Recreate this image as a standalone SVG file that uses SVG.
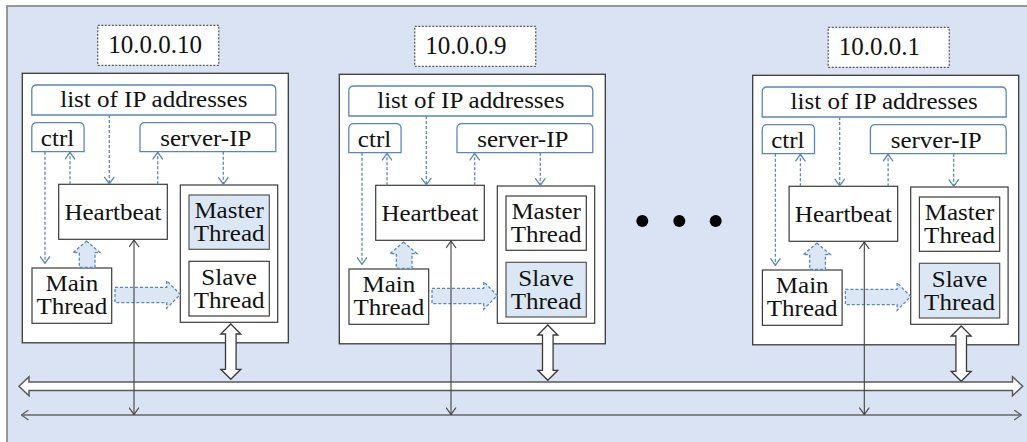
<svg xmlns="http://www.w3.org/2000/svg" width="1027" height="442" viewBox="0 0 1027 442">
<style>
text{font-family:"Liberation Serif",serif;font-size:23px;fill:#111;text-anchor:middle}
text.ip{font-size:25px;text-anchor:start}
.lbl{fill:#fff;stroke:#333;stroke-width:1;stroke-dasharray:2 1.5}
.host{fill:#fff;stroke:#3a3a3a;stroke-width:1.3}
.box{fill:#fff;stroke:#3a3a3a;stroke-width:1.2}
.hl{fill:#dbe7f4;stroke:#555;stroke-width:1.2}
.tab{fill:#fff;stroke:#5b87b8;stroke-width:1.3}
.blk{fill:#dbe7f4;stroke:#5b87b8;stroke-width:1.3;stroke-dasharray:3 2}
.dbl{fill:#fff;stroke:#3a3a3a;stroke-width:1.3}
.dash{fill:none;stroke:#5b87b8;stroke-width:1.3;stroke-dasharray:3 2;marker-end:url(#bh)}
.vl{fill:none;stroke:#404040;stroke-width:1.1;marker-start:url(#dh);marker-end:url(#dh)}
</style>
<defs>
<marker id="bh" viewBox="0 0 8 11" refX="7.5" refY="5.5" markerWidth="8" markerHeight="11" markerUnits="userSpaceOnUse" orient="auto-start-reverse">
<path d="M0.5,0.5 L7.5,5.5 L0.5,10.5" fill="none" stroke="#5b87b8" stroke-width="1.3"/>
</marker>
<marker id="dh" viewBox="0 0 8 11" refX="7.5" refY="5.5" markerWidth="8" markerHeight="11" markerUnits="userSpaceOnUse" orient="auto-start-reverse">
<path d="M0.5,0.5 L7.5,5.5 L0.5,10.5" fill="none" stroke="#404040" stroke-width="1.2"/>
</marker>
<marker id="gh" viewBox="0 0 8 11" refX="7.5" refY="5.5" markerWidth="8" markerHeight="11" markerUnits="userSpaceOnUse" orient="auto-start-reverse">
<path d="M0.5,0.5 L7.5,5.5 L0.5,10.5" fill="none" stroke="#666" stroke-width="1.3"/>
</marker>
</defs>

<rect id="background" x="7" y="6" width="1030" height="450" fill="#dae3f3" stroke="#808080" stroke-width="1.6"/>

<g id="host-10-0-0-10" transform="translate(22.3,73.3)">
<rect class="lbl" x="75.5" y="-48" width="121" height="40"/>
<text class="ip" x="86" y="-20">10.0.0.10</text>
<rect class="host" x="0" y="0" width="266" height="269.5"/>
<g id="h1-list"><path class="tab" d="M9.5,41.7 V16.7 Q9.5,11.7 14.5,11.7 H248.5 Q253.5,11.7 253.5,16.7 V41.7 Z"/>
<text transform="translate(131.5,0) scale(1.087,1)" x="0" y="34">list of IP addresses</text></g>
<g id="h1-ctrl"><path class="tab" d="M9.5,78.4 V54.4 Q9.5,49.4 14.5,49.4 H56.8 Q61.8,49.4 61.8,54.4 V78.4 Z"/>
<text transform="translate(35.2,0) scale(1.087,1)" x="0" y="72.4">ctrl</text></g>
<g id="h1-server"><path class="tab" d="M117.7,78.4 V54.4 Q117.7,49.4 122.7,49.4 H248.5 Q253.5,49.4 253.5,54.4 V78.4 Z"/>
<text transform="translate(183.5,0) scale(1.087,1)" x="0" y="72.4">server-IP</text></g>
<g id="h1-heartbeat"><rect class="box" x="36.4" y="111" width="108.6" height="55"/>
<text transform="translate(90.7,0) scale(1.087,1)" x="0" y="146.7">Heartbeat</text></g>
<rect class="box" x="158" y="111.7" width="97.4" height="137.3"/>
<g id="h1-master"><rect class="hl" x="166.7" y="121.7" width="80.3" height="54.3"/>
<text transform="translate(206.8,0) scale(1.087,1)"><tspan x="0" y="145">Master</tspan><tspan x="0" y="167.7">Thread</tspan></text></g>
<g id="h1-slave"><rect class="box" x="166.7" y="188" width="80.3" height="54.7"/>
<text transform="translate(206.8,0) scale(1.087,1)"><tspan x="0" y="211.7">Slave</tspan><tspan x="0" y="234.4">Thread</tspan></text></g>
<g id="h1-main"><rect class="box" x="9.7" y="194.7" width="79.7" height="55.3"/>
<text transform="translate(49.5,0) scale(1.087,1)"><tspan x="0" y="218.1">Main</tspan><tspan x="0" y="240.9">Thread</tspan></text></g>
<polygon class="blk" points="64.2,167.7 77.7,179.4 72.7,179.4 72.7,194.2 57,194.2 57,179.4 50.6,179.4"/>
<polygon class="blk" points="92.7,214 144.4,214 144.4,207.4 158,221.2 144.4,235 144.4,229.4 92.7,229.4"/>
<polygon class="dbl" points="208.5,250.7 218.5,260.7 213.8,260.7 213.8,296 218.5,296 208.5,306 198.5,296 203.2,296 203.2,260.7 198.5,260.7"/>
</g>

<g id="host-10-0-0-9" transform="translate(339.3,74.3)">
<rect class="lbl" x="75.5" y="-48" width="121" height="40"/>
<text class="ip" x="86" y="-20">10.0.0.9</text>
<rect class="host" x="0" y="0" width="266" height="269.5"/>
<g id="h2-list"><path class="tab" d="M9.5,41.7 V16.7 Q9.5,11.7 14.5,11.7 H248.5 Q253.5,11.7 253.5,16.7 V41.7 Z"/>
<text transform="translate(131.5,0) scale(1.087,1)" x="0" y="34">list of IP addresses</text></g>
<g id="h2-ctrl"><path class="tab" d="M9.5,78.4 V54.4 Q9.5,49.4 14.5,49.4 H56.8 Q61.8,49.4 61.8,54.4 V78.4 Z"/>
<text transform="translate(35.2,0) scale(1.087,1)" x="0" y="72.4">ctrl</text></g>
<g id="h2-server"><path class="tab" d="M117.7,78.4 V54.4 Q117.7,49.4 122.7,49.4 H248.5 Q253.5,49.4 253.5,54.4 V78.4 Z"/>
<text transform="translate(183.5,0) scale(1.087,1)" x="0" y="72.4">server-IP</text></g>
<g id="h2-heartbeat"><rect class="box" x="36.4" y="111" width="108.6" height="55"/>
<text transform="translate(90.7,0) scale(1.087,1)" x="0" y="146.7">Heartbeat</text></g>
<rect class="box" x="158" y="111.7" width="97.4" height="137.3"/>
<g id="h2-master"><rect class="box" x="166.7" y="121.7" width="80.3" height="54.3"/>
<text transform="translate(206.8,0) scale(1.087,1)"><tspan x="0" y="145">Master</tspan><tspan x="0" y="167.7">Thread</tspan></text></g>
<g id="h2-slave"><rect class="hl" x="166.7" y="188" width="80.3" height="54.7"/>
<text transform="translate(206.8,0) scale(1.087,1)"><tspan x="0" y="211.7">Slave</tspan><tspan x="0" y="234.4">Thread</tspan></text></g>
<g id="h2-main"><rect class="box" x="9.7" y="194.7" width="79.7" height="55.3"/>
<text transform="translate(49.5,0) scale(1.087,1)"><tspan x="0" y="218.1">Main</tspan><tspan x="0" y="240.9">Thread</tspan></text></g>
<polygon class="blk" points="64.2,167.7 77.7,179.4 72.7,179.4 72.7,194.2 57,194.2 57,179.4 50.6,179.4"/>
<polygon class="blk" points="92.7,214 144.4,214 144.4,207.4 158,221.2 144.4,235 144.4,229.4 92.7,229.4"/>
<polygon class="dbl" points="208.5,250.7 218.5,260.7 213.8,260.7 213.8,296 218.5,296 208.5,306 198.5,296 203.2,296 203.2,260.7 198.5,260.7"/>
</g>

<g id="host-10-0-0-1" transform="translate(752.7,75.3)">
<rect class="lbl" x="75.5" y="-48" width="121" height="40"/>
<text class="ip" x="86" y="-20">10.0.0.1</text>
<rect class="host" x="0" y="0" width="266" height="269.5"/>
<g id="h3-list"><path class="tab" d="M9.5,41.7 V16.7 Q9.5,11.7 14.5,11.7 H248.5 Q253.5,11.7 253.5,16.7 V41.7 Z"/>
<text transform="translate(131.5,0) scale(1.087,1)" x="0" y="34">list of IP addresses</text></g>
<g id="h3-ctrl"><path class="tab" d="M9.5,78.4 V54.4 Q9.5,49.4 14.5,49.4 H56.8 Q61.8,49.4 61.8,54.4 V78.4 Z"/>
<text transform="translate(35.2,0) scale(1.087,1)" x="0" y="72.4">ctrl</text></g>
<g id="h3-server"><path class="tab" d="M117.7,78.4 V54.4 Q117.7,49.4 122.7,49.4 H248.5 Q253.5,49.4 253.5,54.4 V78.4 Z"/>
<text transform="translate(183.5,0) scale(1.087,1)" x="0" y="72.4">server-IP</text></g>
<g id="h3-heartbeat"><rect class="box" x="36.4" y="111" width="108.6" height="55"/>
<text transform="translate(90.7,0) scale(1.087,1)" x="0" y="146.7">Heartbeat</text></g>
<rect class="box" x="158" y="111.7" width="97.4" height="137.3"/>
<g id="h3-master"><rect class="box" x="166.7" y="121.7" width="80.3" height="54.3"/>
<text transform="translate(206.8,0) scale(1.087,1)"><tspan x="0" y="145">Master</tspan><tspan x="0" y="167.7">Thread</tspan></text></g>
<g id="h3-slave"><rect class="hl" x="166.7" y="188" width="80.3" height="54.7"/>
<text transform="translate(206.8,0) scale(1.087,1)"><tspan x="0" y="211.7">Slave</tspan><tspan x="0" y="234.4">Thread</tspan></text></g>
<g id="h3-main"><rect class="box" x="9.7" y="194.7" width="79.7" height="55.3"/>
<text transform="translate(49.5,0) scale(1.087,1)"><tspan x="0" y="218.1">Main</tspan><tspan x="0" y="240.9">Thread</tspan></text></g>
<polygon class="blk" points="64.2,167.7 77.7,179.4 72.7,179.4 72.7,194.2 57,194.2 57,179.4 50.6,179.4"/>
<polygon class="blk" points="92.7,214 144.4,214 144.4,207.4 158,221.2 144.4,235 144.4,229.4 92.7,229.4"/>
<polygon class="dbl" points="208.5,250.7 218.5,260.7 213.8,260.7 213.8,296 218.5,296 208.5,306 198.5,296 203.2,296 203.2,260.7 198.5,260.7"/>
</g>

<g id="ellipsis">
<circle cx="642.3" cy="221" r="6" fill="#000"/>
<circle cx="679.3" cy="221" r="6" fill="#000"/>
<circle cx="715.7" cy="221" r="6" fill="#000"/>
</g>

<g id="bus">
<polygon points="19,386.2 29,376.7 29,382 1012.5,382 1012.5,376.7 1022.7,386.2 1012.5,395.7 1012.5,390.5 29,390.5 29,395.7" fill="#fff" stroke="#595959" stroke-width="1.5"/>
<line x1="21.5" y1="415" x2="1021.2" y2="415" stroke="#666" stroke-width="1.5" marker-start="url(#gh)" marker-end="url(#gh)"/>
</g>

<g id="connectors">
<g transform="translate(22.3,73.3)">
<line class="dash" x1="87" y1="41.7" x2="87" y2="110.5"/>
<line class="dash" x1="47.7" y1="111" x2="47.7" y2="79"/>
<line class="dash" x1="135.4" y1="111" x2="135.4" y2="79"/>
<line class="dash" x1="201" y1="78.4" x2="201" y2="111"/>
<line class="dash" x1="22.7" y1="78.4" x2="22.7" y2="190"/>
</g>
<g transform="translate(339.3,74.3)">
<line class="dash" x1="87" y1="41.7" x2="87" y2="110.5"/>
<line class="dash" x1="47.7" y1="111" x2="47.7" y2="79"/>
<line class="dash" x1="135.4" y1="111" x2="135.4" y2="79"/>
<line class="dash" x1="201" y1="78.4" x2="201" y2="111"/>
<line class="dash" x1="22.7" y1="78.4" x2="22.7" y2="190"/>
</g>
<g transform="translate(752.7,75.3)">
<line class="dash" x1="87" y1="41.7" x2="87" y2="110.5"/>
<line class="dash" x1="47.7" y1="111" x2="47.7" y2="79"/>
<line class="dash" x1="135.4" y1="111" x2="135.4" y2="79"/>
<line class="dash" x1="201" y1="78.4" x2="201" y2="111"/>
<line class="dash" x1="22.7" y1="78.4" x2="22.7" y2="190"/>
</g>
<line class="vl" x1="134" y1="240" x2="134" y2="414.5"/>
<line class="vl" x1="451" y1="241" x2="451" y2="414.5"/>
<line class="vl" x1="864.3" y1="242" x2="864.3" y2="414.5"/>
</g>
</svg>
